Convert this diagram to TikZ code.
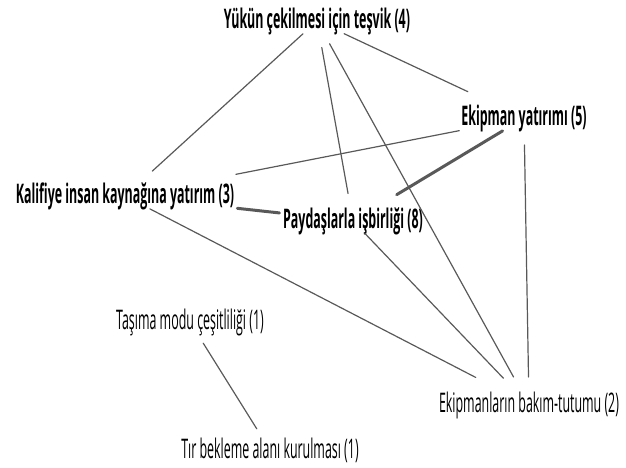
\documentclass[tikz,border=0pt]{standalone}
\usepackage{fontspec}
\newfontfamily\labfont[FakeStretch=0.46]{Open Sans}
\usetikzlibrary{positioning, calc}

\begin{document}
\begin{tikzpicture}[x=1pt, y=-1pt, line cap=round,
                    link/.style={draw=black!65, line width=1.2pt},
                    heavylink/.style={draw=black!65, line width=3pt},
                    boldlab/.style={font=\labfont\bfseries\fontsize{27}{29}\selectfont, inner sep=0pt},
                    plainlab/.style={font=\labfont\fontsize{27}{29}\selectfont, inner sep=0pt}]
                    \useasboundingbox (0, 0) rectangle (626, 468);
                    \node[boldlab] (yukun) at (317, 21) {Yükün çekilmesi için teşvik (4)};
                    \node[boldlab] (ekipman) at (524, 118) {Ekipman yatırımı (5)};
                    \node[boldlab] (kalifiye) at (125, 196) {Kalifiye insan kaynağına yatırım (3)};
                    \node[boldlab] (paydas) at (353, 221) {Paydaşlarla işbirliği (8)};
                    \node[plainlab] (tasima) at (190, 322) {Taşıma modu çeşitliliği (1)};
                    \node[plainlab] (tir) at (270, 450) {Tır bekleme alanı kurulması (1)};
                    \node[plainlab] (bakim) at (529, 405) {Ekipmanların bakım-tutumu (2)};
                    \draw[link, shorten <=19pt, shorten >=37pt] (yukun.center) -- (kalifiye.center);
                    \draw[link, shorten <=27pt, shorten >=28pt] (yukun.center) -- (paydas.center);
                    \draw[link, shorten <=26pt, shorten >=32pt] (yukun.center) -- (bakim.center);
                    \draw[link, shorten <=30pt, shorten >=62pt] (yukun.center) -- (ekipman.center);
                    \draw[link, shorten <=66pt, shorten >=113pt] (ekipman.center) -- (kalifiye.center);
                    \draw[heavylink, shorten <=25pt, shorten >=51pt] (ekipman.center) -- (paydas.center);
                    \draw[link, shorten <=27pt, shorten >=28pt] (ekipman.center) -- (bakim.center);
                    \draw[heavylink, shorten <=113pt, shorten >=74pt] (kalifiye.center) -- (paydas.center);
                    \draw[link, shorten <=28pt, shorten >=60pt] (kalifiye.center) -- (bakim.center);
                    \draw[link, shorten <=17pt, shorten >=37pt] (paydas.center) -- (bakim.center);
                    \draw[link, shorten <=25pt, shorten >=25pt] (tasima.center) -- (tir.center);
                \end{tikzpicture}
\end{document}
